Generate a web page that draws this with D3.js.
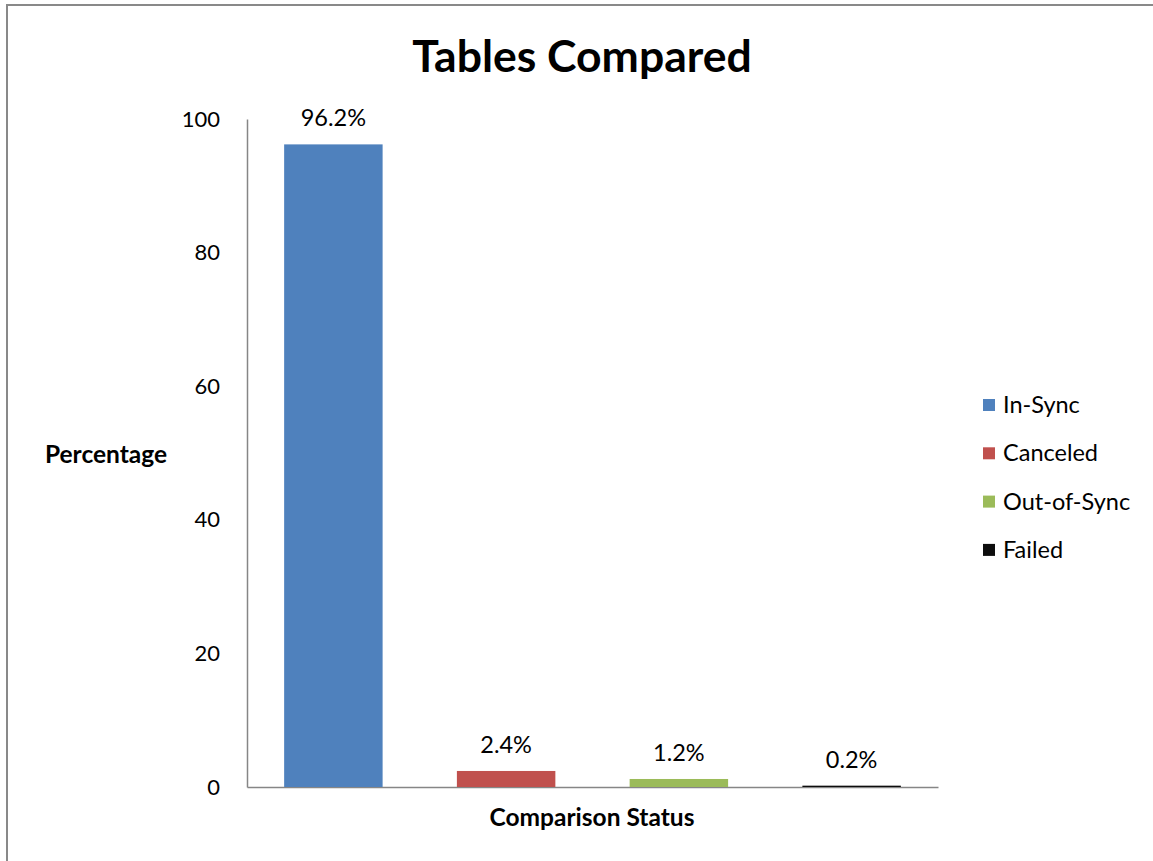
<!DOCTYPE html>
<html>
<head>
<meta charset="utf-8">
<script src="https://cdn.jsdelivr.net/npm/d3@7"></script>
<style>
  body { margin: 0; background: #fff; }
  text { font-family: Lato, "Open Sans", sans-serif; }
</style>
</head>
<body>
<script>
const w = 1153;
const h = 861;

// chart data
const categories = ["In-Sync", "Canceled", "Out-of-Sync", "Failed"];
const values = [96.2, 2.4, 1.2, 0.2];
const colors = ["#4F81BD", "#C0504D", "#9BBB59", "#0D0D0D"];
const yTicks = [0, 20, 40, 60, 80, 100];

const plotLeft = 247, plotRight = 938, plotTop = 119, plotBottom = 787;

const svg = d3.select("body")
              .append("svg")
              .attr("width", w)
              .attr("height", h);

// outer border of the chart area
svg.append("rect")
   .attr("x", 7)
   .attr("y", 5)
   .attr("width", w + 10)
   .attr("height", h + 10)
   .style("fill", "none")
   .style("stroke", "#898989")
   .style("stroke-width", 2);

const x = d3.scaleBand()
            .domain(categories)
            .range([plotLeft, plotRight])
            .paddingInner(0.43)
            .paddingOuter(0.215);

const y = d3.scaleLinear()
            .domain([0, 100])
            .range([plotBottom, plotTop]);

// y axis
const yAxis = svg.append("g")
   .attr("transform", "translate(" + plotLeft + ",0)")
   .call(d3.axisLeft(y).tickValues(yTicks).tickSize(0).tickPadding(27));
yAxis.select(".domain").style("stroke", "#868686").style("stroke-width", 1.5);
yAxis.selectAll("text")
     .style("font-size", "22px")
     .style("fill", "#000");

// x axis line
const xAxis = svg.append("g")
   .attr("transform", "translate(0," + plotBottom + ")")
   .call(d3.axisBottom(x).tickSize(0).tickFormat(""));
xAxis.select(".domain").style("stroke", "#868686").style("stroke-width", 1.5);

// bars
svg.selectAll("rect.bar")
   .data(values)
   .enter()
   .append("rect")
   .attr("class", "bar")
   .attr("x", (d, i) => x(categories[i]))
   .attr("y", (d) => y(d))
   .attr("width", x.bandwidth())
   .attr("height", (d) => plotBottom - y(d))
   .style("fill", (d, i) => colors[i]);

// value labels
svg.selectAll("text.lbl")
   .data(values)
   .enter()
   .append("text")
   .attr("class", "lbl")
   .attr("x", (d, i) => x(categories[i]) + x.bandwidth() / 2)
   .attr("y", (d) => y(d) - 18)
   .attr("text-anchor", "middle")
   .style("font-size", "23.5px")
   .text((d) => d.toFixed(1) + "%");

// title
svg.append("text")
   .attr("x", 582)
   .attr("y", 72)
   .attr("text-anchor", "middle")
   .style("font-size", "44.5px")
   .style("font-weight", "bold")
   .text("Tables Compared");

// axis titles
svg.append("text")
   .attr("x", 106)
   .attr("y", 463)
   .attr("text-anchor", "middle")
   .style("font-size", "24.5px")
   .style("font-weight", "bold")
   .text("Percentage");

svg.append("text")
   .attr("x", 592)
   .attr("y", 826)
   .attr("text-anchor", "middle")
   .style("font-size", "24.5px")
   .style("font-weight", "bold")
   .text("Comparison Status");

// legend
const legend = svg.selectAll("g.leg")
   .data(categories)
   .enter()
   .append("g")
   .attr("class", "leg")
   .attr("transform", (d, i) => "translate(983," + (399 + i * 48.3) + ")");

legend.append("rect")
      .attr("width", 12)
      .attr("height", 12)
      .style("fill", (d, i) => colors[i]);

legend.append("text")
      .attr("x", 20)
      .attr("y", 14)
      .style("font-size", "23.5px")
      .text((d) => d);
</script>
</body>
</html>
